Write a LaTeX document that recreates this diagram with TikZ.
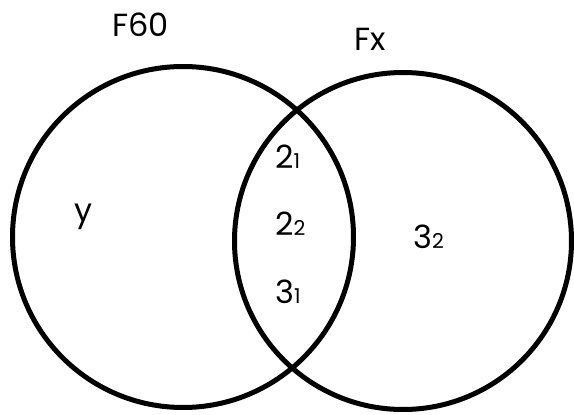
\documentclass[tikz,border=0pt]{standalone}
\usepackage{fontspec}
\setmainfont{Poppins}
\newcommand\smallsub[1]{{\fontsize{20.5}{20.5}\selectfont #1}}
\tikzset{
  setring/.style={circle, draw=black, line width=5pt, inner sep=0pt},
  lbl/.style={inner sep=0pt, font=\fontsize{32}{32}\selectfont, anchor=base},
  lblw/.style={inner sep=0pt, font=\fontsize{32}{32}\selectfont, anchor=base west}
}
\begin{document}
\begin{tikzpicture}[x=1pt,y=-1pt]
\useasboundingbox (0,0) rectangle (574,415);
\node[setring, minimum size=341pt] (A) at (183,237) {};
\node[setring, minimum size=337pt] (B) at (403,241) {};
\node[lbl] (tA) at (140.5,36) {F60};
\node[lbl] (tB) at (370,50) {Fx};
\node[lbl] (ty) at (84,221) {y};
\node[lblw] (t21) at (275,168) {2\smallsub{1}};
\node[lblw] (t22) at (275,235) {2\smallsub{2}};
\node[lblw] (t31) at (275,303) {3\smallsub{1}};
\node[lblw] (t32) at (413,248) {3\smallsub{2}};
\end{tikzpicture}
\end{document}
